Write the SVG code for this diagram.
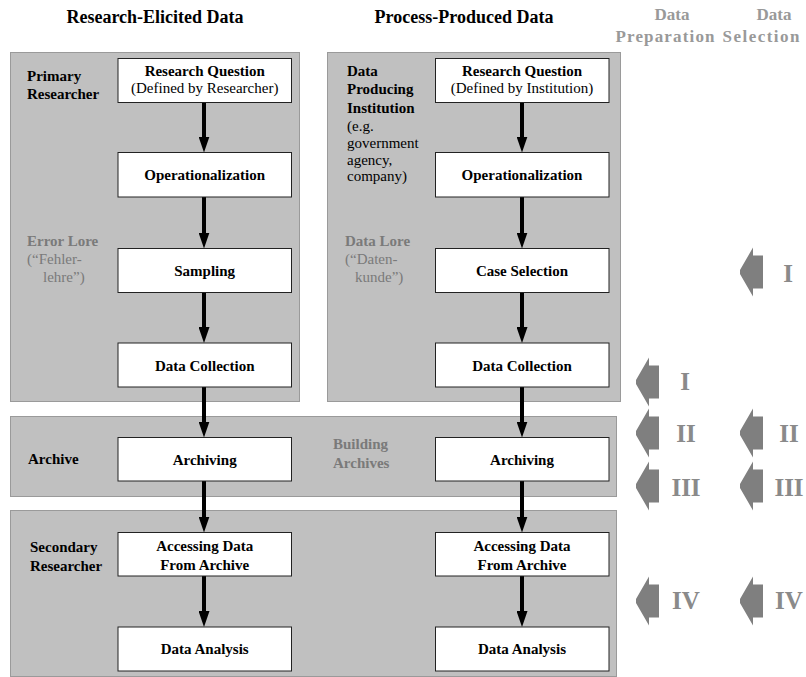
<svg xmlns="http://www.w3.org/2000/svg" width="806" height="677" viewBox="0 0 806 677">
<style>
text{font-family:"Liberation Serif","Times New Roman",serif;}
.hd{font-size:18px;font-weight:bold;fill:#000;text-anchor:middle;}
.gh{font-size:17px;font-weight:bold;fill:#999;text-anchor:middle;}
.panel{fill:#c0c0c0;stroke:#9a9a9a;stroke-width:1;}
.box{fill:#fff;stroke:#222;stroke-width:1;}
.bt{font-size:15px;font-weight:bold;fill:#000;text-anchor:middle;}
.bs{font-size:15px;fill:#000;text-anchor:middle;}
.lb{font-size:15px;font-weight:bold;fill:#000;}
.lr{font-size:15px;fill:#000;}
.gb{font-size:15px;font-weight:bold;fill:#7a7a7a;}
.gr{font-size:15px;fill:#7a7a7a;}
.num{font-size:25px;font-weight:bold;fill:#8a8a8a;text-anchor:middle;}
.blk{fill:#7f7f7f;}
.conn{stroke:#000;stroke-width:4;fill:none;marker-end:url(#ah);}
</style>
<defs>
<marker id="ah" markerUnits="userSpaceOnUse" viewBox="0 0 16 11" markerWidth="16" markerHeight="11" refX="4" refY="5.5" orient="auto">
<path d="M0,0 L16,5.5 L0,11 Z" fill="#000"/>
</marker>
<path id="blkarrow" d="M13,-24.5 L0,-2 L0,2 L13,24.5 L13,16.5 L23,16.5 L23,-16.5 L13,-16.5 Z"/>
</defs>

<g id="headers">
<text class="hd" x="155" y="23">Research-Elicited Data</text>
<text class="hd" x="464" y="23">Process-Produced Data</text>
<text class="gh" x="672" y="20">Data</text>
<text class="gh" x="665" y="42" textLength="99" lengthAdjust="spacing">Preparation</text>
<text class="gh" x="774" y="20">Data</text>
<text class="gh" x="761" y="42" textLength="77" lengthAdjust="spacing">Selection</text>
</g>

<g id="panels">
<rect class="panel" x="10.5" y="52.5" width="289" height="349"/>
<rect class="panel" x="327.5" y="52.5" width="293" height="349"/>
<rect class="panel" x="10.5" y="416.5" width="606" height="80"/>
<rect class="panel" x="10.5" y="510.5" width="606" height="166"/>
</g>

<g id="panel-labels">
<text class="lb" x="27" y="81">Primary</text>
<text class="lb" x="27" y="99">Researcher</text>
<text class="gb" x="27" y="246">Error Lore</text>
<text class="gr" x="27" y="264">(“Fehler-</text>
<text class="gr" x="43" y="282">lehre”)</text>
<text class="lb" x="347" y="76">Data</text>
<text class="lb" x="347" y="94">Producing</text>
<text class="lb" x="347" y="113">Institution</text>
<text class="lr" x="347" y="131">(e.g.</text>
<text class="lr" x="347" y="148">government</text>
<text class="lr" x="347" y="164.5">agency,</text>
<text class="lr" x="347" y="181">company)</text>
<text class="gb" x="345" y="246">Data Lore</text>
<text class="gr" x="345" y="264">(“Daten-</text>
<text class="gr" x="355" y="282">kunde”)</text>
<text class="lb" x="28" y="464">Archive</text>
<text class="gb" x="333" y="449">Building</text>
<text class="gb" x="333" y="468">Archives</text>
<text class="lb" x="30" y="552">Secondary</text>
<text class="lb" x="30" y="571">Researcher</text>
</g>

<g id="connectors">
<line class="conn" x1="204" y1="102.5" x2="204" y2="140.5"/>
<line class="conn" x1="204" y1="197" x2="204" y2="236.5"/>
<line class="conn" x1="204" y1="292.5" x2="204" y2="331"/>
<line class="conn" x1="204" y1="387" x2="204" y2="425.5"/>
<line class="conn" x1="204" y1="481" x2="204" y2="520.5"/>
<line class="conn" x1="204" y1="576" x2="204" y2="615"/>
<line class="conn" x1="522" y1="102.5" x2="522" y2="140.5"/>
<line class="conn" x1="522" y1="197" x2="522" y2="236.5"/>
<line class="conn" x1="522" y1="292.5" x2="522" y2="331"/>
<line class="conn" x1="522" y1="387" x2="522" y2="425.5"/>
<line class="conn" x1="522" y1="481" x2="522" y2="520.5"/>
<line class="conn" x1="522" y1="576" x2="522" y2="615"/>
</g>

<g id="rq-left"><rect class="box" x="118" y="58.5" width="173.5" height="44"/><text class="bt" x="204.7" y="76">Research Question</text><text class="bs" x="204.7" y="93">(Defined by Researcher)</text></g>
<g id="op-left"><rect class="box" x="118" y="152.5" width="173.5" height="44.5"/><text class="bt" x="204.7" y="180">Operationalization</text></g>
<g id="sampling"><rect class="box" x="118" y="248.5" width="173.5" height="44"/><text class="bt" x="204.7" y="276">Sampling</text></g>
<g id="dc-left"><rect class="box" x="118" y="343" width="173.5" height="44"/><text class="bt" x="204.7" y="371">Data Collection</text></g>
<g id="arch-left"><rect class="box" x="118" y="437.5" width="173.5" height="43.5"/><text class="bt" x="204.7" y="465">Archiving</text></g>
<g id="acc-left"><rect class="box" x="118" y="532.5" width="173.5" height="43.5"/><text class="bt" x="204.7" y="551">Accessing Data</text><text class="bt" x="204.7" y="569.5">From Archive</text></g>
<g id="da-left"><rect class="box" x="118" y="627" width="173.5" height="44"/><text class="bt" x="204.7" y="654">Data Analysis</text></g>

<g id="rq-right"><rect class="box" x="435.5" y="58.5" width="173.5" height="44"/><text class="bt" x="522" y="76">Research Question</text><text class="bs" x="522" y="93">(Defined by Institution)</text></g>
<g id="op-right"><rect class="box" x="435.5" y="152.5" width="173.5" height="44.5"/><text class="bt" x="522" y="180">Operationalization</text></g>
<g id="case-selection"><rect class="box" x="435.5" y="248.5" width="173.5" height="44"/><text class="bt" x="522" y="276">Case Selection</text></g>
<g id="dc-right"><rect class="box" x="435.5" y="343" width="173.5" height="44"/><text class="bt" x="522" y="371">Data Collection</text></g>
<g id="arch-right"><rect class="box" x="435.5" y="437.5" width="173.5" height="43.5"/><text class="bt" x="522" y="465">Archiving</text></g>
<g id="acc-right"><rect class="box" x="435.5" y="532.5" width="173.5" height="43.5"/><text class="bt" x="522" y="551">Accessing Data</text><text class="bt" x="522" y="569.5">From Archive</text></g>
<g id="da-right"><rect class="box" x="435.5" y="627" width="173.5" height="44"/><text class="bt" x="522" y="654">Data Analysis</text></g>

<g id="prep-markers">
<use href="#blkarrow" class="blk" x="636" y="382"/><text class="num" x="685" y="390">I</text>
<use href="#blkarrow" class="blk" x="636" y="433"/><text class="num" x="686" y="442">II</text>
<use href="#blkarrow" class="blk" x="636" y="486"/><text class="num" x="686" y="495.5">III</text>
<use href="#blkarrow" class="blk" x="636" y="601"/><text class="num" x="686" y="609">IV</text>
</g>
<g id="sel-markers">
<use href="#blkarrow" class="blk" x="740" y="272"/><text class="num" x="788" y="281.5">I</text>
<use href="#blkarrow" class="blk" x="740" y="433"/><text class="num" x="789" y="442">II</text>
<use href="#blkarrow" class="blk" x="740" y="486"/><text class="num" x="789" y="495.5">III</text>
<use href="#blkarrow" class="blk" x="740" y="601"/><text class="num" x="789" y="609">IV</text>
</g>
</svg>
